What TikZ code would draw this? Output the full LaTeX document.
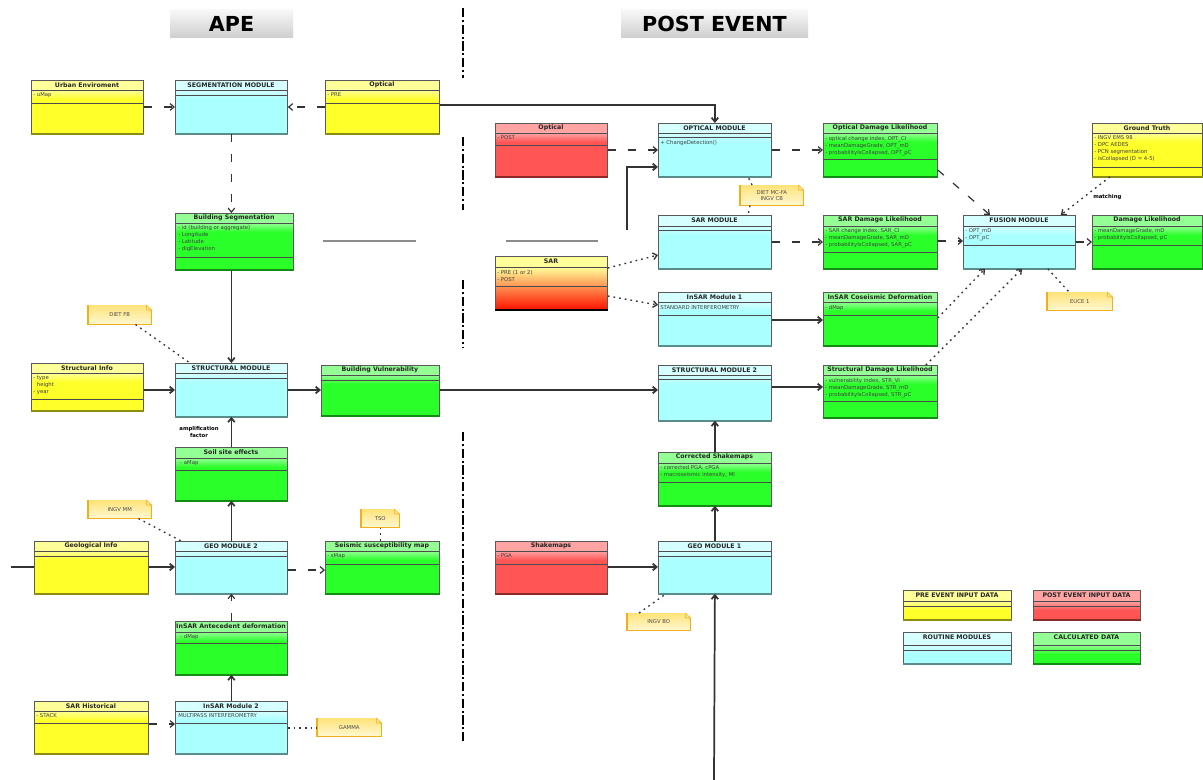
\documentclass[tikz,border=0pt]{standalone}
\usepackage{fontspec}
\setmainfont{DejaVu Sans}
\usetikzlibrary{arrows.meta,calc}

% compartment colours: L = header, B = body, E = bottom edge
\definecolor{yelL}{HTML}{FFFF99}\definecolor{yelB}{HTML}{FFFF2A}\definecolor{yelE}{HTML}{8C8C10}
\definecolor{cyaL}{HTML}{D6FFFF}\definecolor{cyaB}{HTML}{AAFFFF}\definecolor{cyaE}{HTML}{5A8C8C}
\definecolor{greL}{HTML}{94FF94}\definecolor{greB}{HTML}{2AFF2A}\definecolor{greE}{HTML}{128C12}
\definecolor{redL}{HTML}{FFA3A3}\definecolor{redB}{HTML}{FF5555}\definecolor{redE}{HTML}{8C2A2A}
\definecolor{notL}{HTML}{FFE37A}\definecolor{notB}{HTML}{FFF8D2}\definecolor{notE}{HTML}{F2AE1C}
\definecolor{lineC}{HTML}{333333}

% class box: name, x0, y0, x1, y1, colour family, title, first rule, second rule
\newcommand{\umlbox}[9]{%
  \node[classframe, fill=#6B, minimum width={(#4-#2)*0.75pt},
        minimum height={(#5-#3)*0.75pt}, anchor=north west] (#1) at (#2,#3) {};
  \fill[#6L] (#2,#3) rectangle (#4,#8);
  \shade[top color=#6L, bottom color=#6B] (#2,#8) rectangle (#4,{#8+9});
  \draw[classrule] (#2,#8) -- (#4,#8);
  \draw[classrule] (#2,#9) -- (#4,#9);
  \draw[classframe] (#1.north west) rectangle (#1.south east);
  \draw[#6E, line width=1.4pt] (#1.south west) -- (#1.south east);
  \node[classtitle] (#1-title) at ({(#2+#4)/2},{#3+5}) {#7};
}
% attribute list of a class box
\newcommand{\umlattr}[4]{\node[classattr] (#1) at (#2,#3) {#4};}
% note with folded corner: name, x0, y0, x1, y1, text
\newcommand{\umlnote}[6]{%
  \node[notebox, minimum width={(#4-#2)*0.75pt}, minimum height={(#5-#3)*0.75pt},
        anchor=north west] (#1) at (#2,#3) {#6};
  \fill[white] ($(#1.north east)+(-5,0)$) -- (#1.north east) -- ($(#1.north east)+(0,5)$) -- cycle;
  \draw[notE, line width=0.4pt] ($(#1.north east)+(-5,0)$) -- ($(#1.north east)+(-5,5)$)
        -- ($(#1.north east)+(0,5)$) -- cycle;
  \draw[notE, line width=1pt] (#1.north west) -- (#1.south west) -- (#1.south east)
        -- ($(#1.north east)+(0,5)$);
}

\begin{document}
\begin{tikzpicture}[x=0.75pt, y=-0.75pt,
  classframe/.style={draw=black!65, line width=0.6pt, inner sep=0pt},
  classrule/.style={draw=black!70, line width=0.6pt},
  classtitle/.style={font=\fontsize{4.7}{5}\selectfont\bfseries, inner sep=0pt, text=black!85},
  classattr/.style={font=\fontsize{4}{5.3}\selectfont, inner sep=0pt, anchor=north west,
                    align=left, text=black!75},
  notebox/.style={top color=notL, bottom color=notB, inner sep=0pt, align=center,
                  font=\fontsize{4}{4.8}\selectfont, text=black!70},
  hdr/.style={top color=gray!6, bottom color=gray!38, inner sep=0pt,
              font=\fontsize{15.5}{16}\selectfont\bfseries},
  solidarr/.style={draw=lineC, line width=1.3pt, -{Straight Barb[length=3pt,width=5pt]}},
  deparr/.style={draw=lineC, line width=0.9pt, dash pattern=on 6pt off 9pt,
                 -{Straight Barb[length=3pt,width=5pt]}},
  dotarr/.style={draw=lineC, line width=1pt, dash pattern=on 1.3pt off 3pt,
                 -{Straight Barb[length=3pt,width=5pt]}},
  notelink/.style={draw=lineC, line width=1pt, dash pattern=on 1.3pt off 3pt},
  plainline/.style={draw=lineC, line width=1.3pt},
  grayseg/.style={draw=gray!90, line width=1.4pt},
  divider/.style={draw=black, line width=2.2pt, dash pattern=on 7pt off 2pt on 1.5pt off 2pt},
  lbl/.style={font=\fontsize{4}{4.6}\selectfont\bfseries, align=center, inner sep=0pt}]

\path[use as bounding box, fill=white] (0,0) rectangle (1203,780);

% section headers
\node[hdr, minimum width=92.25pt, minimum height=21pt] (hdrape) at (231.5,24) {APE};
\node[hdr, minimum width=140.25pt, minimum height=21pt] (hdrpost) at (714.5,24) {POST EVENT};

% dividing line between the two phases
\coordinate (d0) at (463,8);   \coordinate (d1) at (463,78);
\coordinate (d2) at (463,137); \coordinate (d3) at (463,210);
\coordinate (d4) at (463,280); \coordinate (d5) at (463,348);
\coordinate (d6) at (463,432); \coordinate (d7) at (463,742);
\draw[divider] (d0) -- (d1);
\draw[divider] (d2) -- (d3);
\draw[divider] (d4) -- (d5);
\draw[divider] (d6) -- (d7);

% ---------- APE ----------
\umlbox{urban}{31}{80}{143}{133}{yel}{Urban Enviroment}{90}{103}
\umlattr{urban-a}{33}{92}{- uMap}
\umlbox{segmod}{175}{80}{287}{133}{cya}{SEGMENTATION MODULE}{90}{95}
\umlbox{optpre}{325}{80}{439}{133}{yel}{Optical}{90}{103}
\umlattr{optpre-a}{327}{92}{- PRE}
\umlbox{bseg}{175}{213}{293}{269}{gre}{Building Segmentation}{223}{257}
\umlattr{bseg-a}{178}{225}{- id (building or aggregate)\\- Longitude\\- Latitude\\- digElevation}
\umlbox{structinfo}{31}{363}{143}{410}{yel}{Structural Info}{373}{399}
\umlattr{structinfo-a}{33}{375}{- type\\\hphantom{-} height\\- year}
\umlbox{structmod}{175}{363}{287}{416}{cya}{STRUCTURAL MODULE}{373}{378}
\umlbox{bvuln}{321}{365}{439}{415}{gre}{Building Vulnerability}{375}{380}
\umlbox{soil}{175}{447}{287}{500}{gre}{Soil site effects}{458}{470}
\umlattr{soil-a}{180}{460}{- aMap}
\umlbox{geoinfo}{34}{541}{148}{593}{yel}{Geological Info}{551}{556}
\umlbox{geomod2}{175}{541}{287}{593}{cya}{GEO MODULE 2}{551}{556}
\umlbox{seismic}{325}{541}{439}{593}{gre}{Seismic susceptibility map}{551}{564}
\umlattr{seismic-a}{327}{553}{- sMap}
\umlbox{insarant}{175}{621}{287}{674}{gre}{InSAR Antecedent deformation}{632}{643}
\umlattr{insarant-a}{180}{634}{- dMap}
\umlbox{sarhist}{34}{701}{148}{753}{yel}{SAR Historical}{711}{723}
\umlattr{sarhist-a}{36}{713}{- STACK}
\umlbox{insarmod2}{175}{701}{287}{753}{cya}{InSAR Module 2}{711}{723}
\umlattr{insarmod2-a}{178}{713}{MULTIPASS INTERFEROMETRY}

\umlnote{dietfb}{88}{305}{151}{324}{DIET FB}
\umlnote{ingvmm}{88}{500}{151}{518}{INGV MM}
\umlnote{tso}{361}{509}{399}{527}{TSO}
\umlnote{gamma}{317}{718}{381}{736}{GAMMA}

% ---------- POST EVENT ----------
\umlbox{optpost}{495}{123}{607}{176}{red}{Optical}{133}{145}
\umlattr{optpost-a}{497}{135}{- POST}
\umlbox{optmod}{658}{123}{771}{176}{cya}{OPTICAL MODULE}{133}{137}
\umlattr{optmod-a}{660}{140}{+ ChangeDetection()}
\umlbox{sarmod}{658}{215}{771}{268}{cya}{SAR MODULE}{226}{230}

% SAR input: pre and post event, shaded yellow to red
\node[classframe, fill=yelB, minimum width=84pt, minimum height=39.75pt,
      anchor=north west] (sar) at (495,256) {};
\fill[yelL] (495,256) rectangle (607,267);
\shade[top color=yelL, middle color=orange!85!yellow, bottom color=red!85!orange]
      (495,267) rectangle (607,309);
\draw[classrule] (495,267) -- (607,267);
\draw[classrule] (495,286) -- (607,286);
\draw[classframe] (sar.north west) rectangle (sar.south east);
\draw[black, line width=1.4pt] (sar.south west) -- (sar.south east);
\node[classtitle] (sar-title) at (551,261) {SAR};
\umlattr{sar-a}{497}{270}{- PRE (1 or 2)\\- POST}

\umlbox{insarmod1}{658}{292}{771}{345}{cya}{InSAR Module 1}{302}{315}
\umlattr{insarmod1-a}{660}{305}{STANDARD INTERFEROMETRY}
\umlbox{optdl}{823}{123}{937}{176}{gre}{Optical Damage Likelihood}{133}{159}
\umlattr{optdl-a}{825}{136}{- optical change index, OPT\_CI\\- meanDamageGrade, OPT\_mD\\- probabilityIsCollapsed, OPT\_pC}
\umlbox{sardl}{823}{215}{937}{268}{gre}{SAR Damage Likelihood}{226}{252}
\umlattr{sardl-a}{825}{228}{- SAR change index, SAR\_CI\\- meanDamageGrade, SAR\_mD\\- probabilityIsCollapsed, SAR\_pC}
\umlbox{insarco}{823}{292}{937}{345}{gre}{InSAR Coseismic Deformation}{302}{315}
\umlattr{insarco-a}{825}{305}{- dMap}
\umlbox{fusion}{963}{215}{1075}{268}{cya}{FUSION MODULE}{226}{245}
\umlattr{fusion-a}{965}{228}{- OPT\_mD\\- OPT\_pC}
\umlbox{dl}{1092}{215}{1202}{268}{gre}{Damage Likelihood}{226}{245}
\umlattr{dl-a}{1094}{228}{- meanDamageGrade, mD\\- probabilityIsCollapsed, pC}
\umlbox{gt}{1092}{123}{1202}{176}{yel}{Ground Truth}{133}{167}
\umlattr{gt-a}{1094}{135}{- INGV EMS 98\\- DPC AEDES\\- PCN segmentation\\- isCollapsed (D = 4-5)}
\umlbox{structmod2}{658}{365}{771}{420}{cya}{STRUCTURAL MODULE 2}{375}{379}
\umlbox{strdl}{823}{365}{937}{417}{gre}{Structural Damage Likelihood}{375}{401}
\umlattr{strdl-a}{825}{378}{- vulnerability index, STR\_VI\\- meanDamageGrade, STR\_mD\\- probabilityIsCollapsed, STR\_pC}
\umlbox{corrshake}{658}{452}{771}{505}{gre}{Corrected Shakemaps}{463}{482}
\umlattr{corrshake-a}{660}{465}{- corrected PGA, cPGA\\- macroseismic intensity, MI}
\umlbox{shake}{495}{541}{607}{593}{red}{Shakemaps}{551}{564}
\umlattr{shake-a}{497}{553}{- PGA}
\umlbox{geomod1}{658}{541}{771}{593}{cya}{GEO MODULE 1}{551}{556}

\umlnote{mcfa}{740}{185}{803}{205}{DIET MC-FA\\INGV CB}
\umlnote{euc}{1047}{292}{1112}{310}{EUCE 1}
\umlnote{ingvbo}{627}{613}{690}{630}{INGV BO}

% legend
\umlbox{legpre}{903}{590}{1011}{619}{yel}{PRE EVENT INPUT DATA}{601}{606}
\umlbox{legpost}{1033}{590}{1140}{619}{red}{POST EVENT INPUT DATA}{601}{606}
\umlbox{legmod}{903}{632}{1011}{663}{cya}{ROUTINE MODULES}{645}{650}
\umlbox{legcalc}{1033}{632}{1140}{663}{gre}{CALCULATED DATA}{645}{650}

% ---------- connectors: APE ----------
\coordinate (geoin) at (11,567);
\draw[deparr] (urban.east |- 0,107) -- (segmod.west |- 0,107);
\draw[deparr] (optpre.west |- 0,107) -- (segmod.east |- 0,107);
\draw[solidarr] (optpre.east |- 0,105) -| (optmod.north);
\draw[deparr] (segmod.south) -- (segmod.south |- bseg.north);
\draw[solidarr] (structmod.north |- bseg.south) -- (structmod.north);
\draw[notelink] ($(dietfb.south east)+(-16,0)$) -- ($(structmod.north west)+(15,0)$);
\draw[solidarr] (structinfo.east |- 0,390) -- (structmod.west |- 0,390);
\draw[solidarr] (structmod.east |- 0,390) -- (bvuln.west |- 0,390);
\draw[solidarr] (soil.north) -- (structmod.south);
\node[lbl] (amp) at (199,432) {amplification\\factor};
\draw[solidarr] (geomod2.north) -- (soil.south);
\draw[plainline] (geoin) -- (geoinfo.west |- 0,567);
\draw[solidarr] (geoinfo.east |- 0,567) -- (geomod2.west |- 0,567);
\draw[deparr] (geomod2.east |- 0,570) -- (seismic.west |- 0,570);
\draw[notelink] (tso.south) -- (tso.south |- seismic.north);
\draw[notelink] ($(ingvmm.south east)+(-13,0)$) -- ($(geomod2.north west)+(6,0)$);
\draw[deparr] (insarant.north) -- (geomod2.south);
\draw[solidarr] (insarmod2.north) -- (insarant.south);
\draw[deparr] (sarhist.east |- 0,724) -- (insarmod2.west |- 0,724);
\draw[notelink] (insarmod2.east |- 0,728) -- (gamma.west |- 0,728);

% ---------- connectors: POST EVENT ----------
\coordinate (bend) at (627,230);
\coordinate (bottomin) at (714,780);
\draw[grayseg] (bseg.east |- 0,241) ++(29,0) -- ++(93,0);
\draw[grayseg] (sarmod.west |- 0,241) ++(-152,0) -- ++(92,0);
\draw[solidarr] (bend) |- (optmod.west |- 0,167);
\draw[deparr] (optpost.east |- 0,150) -- (optmod.west |- 0,150);
\draw[dotarr] (sar.east |- 0,268) -- (sarmod.west |- 0,255);
\draw[dotarr] (sar.east |- 0,296) -- (insarmod1.west |- 0,305);
\draw[solidarr] (insarmod1.east |- 0,320) -- (insarco.west |- 0,320);
\draw[deparr] (optmod.east |- 0,150) -- (optdl.west |- 0,150);
\draw[deparr] (sarmod.east |- 0,242) -- (sardl.west |- 0,242);
\draw[notelink] ($(mcfa.north west)+(12,0)$) -- (optmod.south -| 748,0);
\draw[notelink] ($(mcfa.south west)+(10,0)$) -- (sarmod.north -| 748,0);
\draw[deparr] (optdl.east |- 0,170) -- ($(fusion.north west)+(27,0)$);
\draw[deparr] (sardl.east |- 0,241) -- (fusion.west |- 0,241);
\draw[dotarr] (insarco.east |- 0,318) -- ($(fusion.south west)+(22,0)$);
\draw[dotarr] ($(strdl.north east)+(-12,0)$) -- ($(fusion.south west)+(59,0)$);
\draw[dotarr] ($(gt.south west)+(18,0)$) -- ($(fusion.north east)+(-15,0)$);
\node[lbl, anchor=west] (match) at (1093,197) {matching};
\draw[deparr] (fusion.east |- 0,242) -- (dl.west |- 0,242);
\draw[notelink] ($(fusion.south east)+(-28,0)$) -- ($(euc.north west)+(22,0)$);
\draw[solidarr] (bvuln.east |- 0,390) -- (structmod2.west |- 0,390);
\draw[solidarr] (structmod2.east |- 0,387) -- (strdl.west |- 0,387);
\draw[solidarr] (corrshake.north) -- (structmod2.south);
\draw[solidarr] (geomod1.north) -- (corrshake.south);
\draw[solidarr] (shake.east |- 0,567) -- (geomod1.west |- 0,567);
\draw[solidarr] (bottomin) -- (geomod1.south);
\draw[notelink] ($(ingvbo.north west)+(12,0)$) -- ($(geomod1.south west)+(8,0)$);

\end{tikzpicture}
\end{document}
